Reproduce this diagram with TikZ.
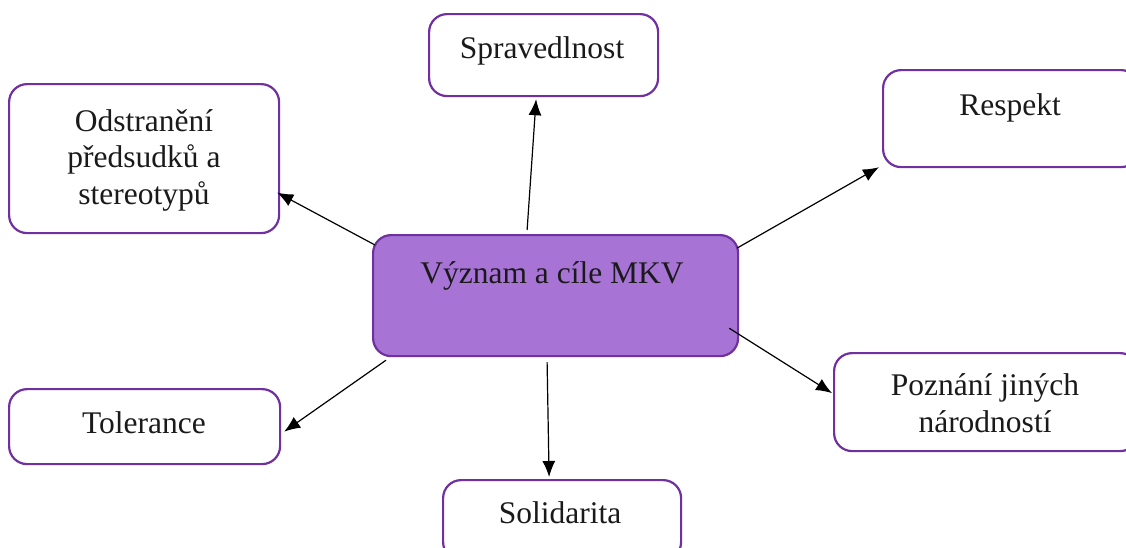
\documentclass[tikz,border=0pt]{standalone}
\usepackage{fontspec}
\setmainfont{Liberation Serif}
\usetikzlibrary{arrows.meta,calc}
\definecolor{bord}{HTML}{7030A0}
\definecolor{fillp}{HTML}{A774D6}
\definecolor{txt}{HTML}{1A1A1A}
\begin{document}
\begin{tikzpicture}[x=1pt,y=-1pt,
  box/.style={draw=bord,line width=2.2pt,rounded corners=18pt,fill=white,inner sep=0pt,anchor=north west},
  lbl/.style={font=\fontsize{31.5pt}{36.5pt}\selectfont,text=txt,inner sep=0pt,align=center},
  conn/.style={line width=1.2pt,-{Latex[length=16pt,width=13pt]}}]
\useasboundingbox (0,0) rectangle (1126,547);
\clip (0,0) rectangle (1126,547);
% boxes
\node[box,minimum width=365pt,minimum height=121pt,fill=fillp] (c) at (372,234) {};
\node[box,minimum width=229pt,minimum height=82pt] (sp) at (428,13) {};
\node[box,minimum width=256pt,minimum height=97pt] (re) at (882,69) {};
\node[box,minimum width=270pt,minimum height=149pt] (od) at (8,83) {};
\node[box,minimum width=271pt,minimum height=75pt] (to) at (8,388) {};
\node[box,minimum width=238pt,minimum height=80pt] (so) at (442,479) {};
\node[box,minimum width=304pt,minimum height=98pt] (po) at (833,352) {};
% texts
\node[lbl,anchor=base] (ct) at (552,283) {Význam a cíle MKV};
\node[lbl,anchor=base] (spt) at (542,58) {Spravedlnost};
\node[lbl,anchor=base] (ret) at (1010,115) {Respekt};
\node[lbl,anchor=base] (tot) at (144,433) {Tolerance};
\node[lbl,anchor=base] (sot) at (560,523) {Solidarita};
\node[lbl] (odt) at (144,160) {Odstranění\\předsudků a\\stereotypů};
\node[lbl] (pot) at (985,403) {Poznání jiných\\národností};
% connectors
\draw[conn] ([xshift=-28.5pt,yshift=4pt]c.north) -- ([xshift=-7.5pt,yshift=-2pt]sp.south);
\draw[conn] ([xshift=-2pt,yshift=-14pt]c.north east) -- ([xshift=-3pt,yshift=1pt]re.south west);
\draw[conn] ([xshift=3pt,yshift=-11pt]c.north west) -- ([xshift=-3pt,yshift=-34pt]od.east);
\draw[conn] ([xshift=14pt,yshift=-3pt]c.south west) -- ([xshift=3pt,yshift=-5pt]to.east);
\draw[conn] ([xshift=-8.5pt,yshift=-5pt]c.south) -- ([xshift=-13pt,yshift=2pt]so.north);
\draw[conn] ([xshift=-10pt,yshift=29pt]c.south east) -- ([xshift=-1pt,yshift=9pt]po.west);
\end{tikzpicture}
\end{document}
